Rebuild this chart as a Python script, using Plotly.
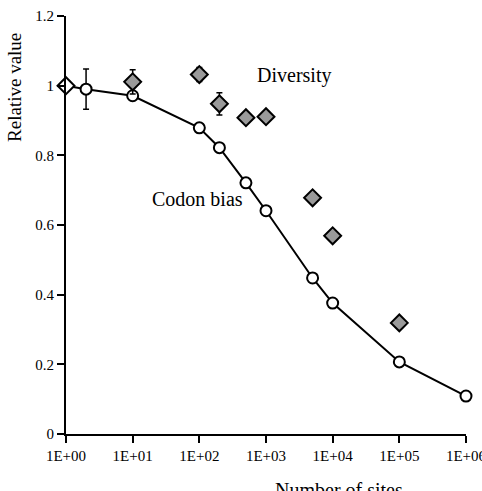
import plotly.graph_objects as go

# Codon bias (line with open circles)
codon_x = [1, 2, 10, 100, 200, 500, 1000, 5000, 10000, 100000, 1000000]
codon_y = [1.0, 0.99, 0.971, 0.879, 0.822, 0.721, 0.641, 0.448, 0.376, 0.207, 0.109]
codon_err = [0, 0.058, 0, 0, 0, 0, 0, 0, 0, 0, 0]

# Diversity (grey diamonds)
div_x = [1, 10, 100, 200, 500, 1000, 5000, 10000, 100000]
div_y = [1.0, 1.011, 1.032, 0.948, 0.908, 0.911, 0.678, 0.569, 0.319]
div_err = [0, 0.035, 0.02, 0.032, 0.012, 0.01, 0.008, 0.008, 0.01]

x_tickvals = [1, 10, 100, 1000, 10000, 100000, 1000000]
x_ticktext = ["1E+00", "1E+01", "1E+02", "1E+03", "1E+04", "1E+05", "1E+06"]
y_tickvals = [0, 0.2, 0.4, 0.6, 0.8, 1.0, 1.2]
y_ticktext = ["0", "0.2", "0.4", "0.6", "0.8", "1", "1.2"]

SERIF = "Liberation Serif, Times New Roman, serif"

div_colors = ["white"] + ["#9a9a9a"] * (len(div_x) - 1)

fig = go.Figure()
fig.add_trace(go.Scatter(
    x=codon_x, y=codon_y, mode="lines+markers",
    line=dict(color="black", width=2),
    marker=dict(symbol="circle", size=11, color="white",
                line=dict(color="black", width=2)),
    error_y=dict(type="data", array=codon_err, color="black", thickness=1.5, width=3),
    cliponaxis=False, showlegend=False))
fig.add_trace(go.Scatter(
    x=div_x, y=div_y, mode="markers",
    marker=dict(symbol="diamond", size=13, color=div_colors,
                line=dict(color="black", width=2)),
    error_y=dict(type="data", array=div_err, color="black", thickness=1.5, width=3),
    cliponaxis=False, showlegend=False))

fig.add_annotation(x=2.84, y=1.0, xref="x", yref="y", text="Diversity",
                   showarrow=False, font=dict(family=SERIF, size=20, color="black"),
                   xanchor="left", yanchor="middle", yshift=10)
fig.add_annotation(x=1.26, y=0.674, xref="x", yref="y", text="Codon bias",
                   showarrow=False, font=dict(family=SERIF, size=20, color="black"),
                   xanchor="left", yanchor="middle")
fig.add_annotation(x=-0.1275, y=0.828, xref="paper", yref="paper", text="Relative value",
                   showarrow=False, textangle=-90,
                   font=dict(family=SERIF, size=19, color="black"),
                   xanchor="center", yanchor="middle")
fig.add_annotation(x=0.6825, y=-0.135, xref="paper", yref="paper", text="Number of sites",
                   showarrow=False, font=dict(family=SERIF, size=20, color="black"),
                   xanchor="center", yanchor="middle")

fig.update_xaxes(type="log", range=[0, 6.0001], tickvals=x_tickvals, ticktext=x_ticktext,
                 showgrid=False, zeroline=False, showline=True, linecolor="black",
                 linewidth=2, ticks="outside", ticklen=7, tickwidth=2, tickcolor="black",
                 ticklabeloverflow="allow", automargin=False,
                 tickfont=dict(family=SERIF, size=15, color="black"))
fig.update_yaxes(range=[0, 1.2], tickvals=y_tickvals, ticktext=y_ticktext,
                 showgrid=False, zeroline=False, showline=True, linecolor="black",
                 linewidth=2, ticks="outside", ticklen=7, tickwidth=2, tickcolor="black",
                 automargin=False,
                 tickfont=dict(family=SERIF, size=15, color="black"))

fig.update_layout(width=482, height=491, margin=dict(l=66, r=16, t=16, b=57),
                  plot_bgcolor="white", paper_bgcolor="white")

fig.write_html("out.html")
